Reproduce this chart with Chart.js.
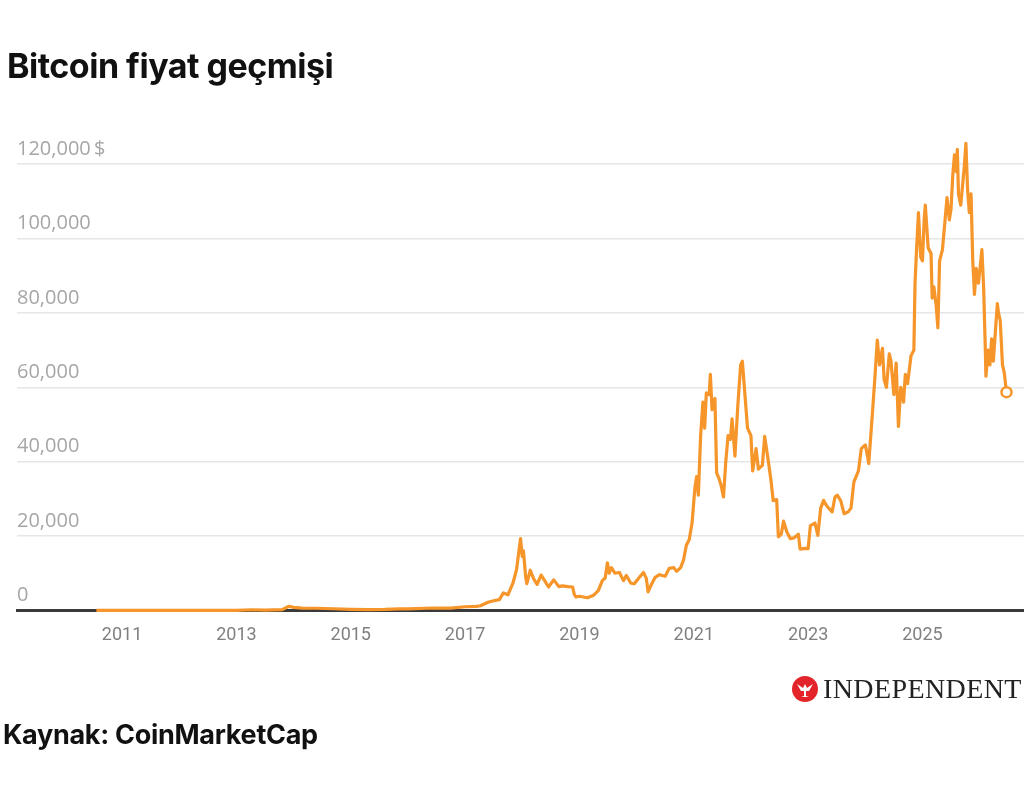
<!DOCTYPE html>
<html>
<head>
<meta charset="utf-8">
<script src="https://cdn.jsdelivr.net/npm/chart.js@4/dist/chart.umd.min.js"></script>
<style>
  html, body { margin:0; padding:0; background:#fff; }
  body { width:1024px; height:789px; position:relative; overflow:hidden; font-family: Inter, "Noto Sans", sans-serif; }
  #wrap { position:absolute; left:0; top:0; width:1032px; height:789px; }
  #title { position:absolute; left:7px; top:46px; font-family:Inter, sans-serif; font-weight:700; font-size:34px; letter-spacing:-0.5px; color:#111; line-height:40px; white-space:nowrap; }
  #source { position:absolute; left:3px; top:719px; font-family:Inter, sans-serif; font-weight:700; font-size:27px; letter-spacing:-0.3px; color:#111; line-height:32px; white-space:nowrap; }
  #logo { position:absolute; left:791px; top:675px; height:28px; display:flex; align-items:center; }
  #logo span { font-family:"Liberation Serif", "DejaVu Serif", serif; font-size:28px; color:#222; letter-spacing:0.4px; margin-left:4px; line-height:28px; }
</style>
</head>
<body>
<div id="wrap"><canvas id="c" width="1032" height="789"></canvas></div>
<div id="title">Bitcoin fiyat geçmişi</div>
<div id="logo"><svg width="28" height="28" viewBox="0 0 28 28"><circle cx="14" cy="14" r="13" fill="#e3242b"/><path d="M6 9 L12 13 L14 9 L16 13 L22 9 L18 16 L15 16 L15 21 L18 22 L10 22 L13 21 L13 16 L10 16 Z" fill="#fff"/></svg><span>INDEPENDENT</span></div>
<div id="source">Kaynak: CoinMarketCap</div>
<script>
// decimal year of each observation
const dates = [
2010.55,2011.0,2011.45,2011.9,2012.5,2013.0,2013.27,2013.5,2013.8,2013.92,
2014.0,2014.15,2014.4,2014.7,2015.0,2015.3,2015.6,2015.85,2016.0,2016.45,
2016.75,2017.0,2017.2,2017.27,2017.4,2017.5,2017.6,2017.67,2017.75,2017.84,
2017.9,2017.95,2017.97,2018.0,2018.02,2018.06,2018.08,2018.14,2018.2,2018.26,
2018.33,2018.35,2018.46,2018.55,2018.58,2018.64,2018.7,2018.8,2018.88,2018.91,
2018.94,2019.0,2019.14,2019.25,2019.33,2019.4,2019.45,2019.49,2019.52,2019.56,
2019.62,2019.7,2019.77,2019.82,2019.9,2019.96,2020.05,2020.12,2020.17,2020.2,
2020.25,2020.32,2020.4,2020.5,2020.57,2020.65,2020.7,2020.77,2020.82,2020.87,
2020.92,2020.97,2021.02,2021.05,2021.08,2021.12,2021.16,2021.19,2021.22,2021.27,
2021.29,2021.32,2021.37,2021.4,2021.44,2021.48,2021.52,2021.56,2021.6,2021.64,
2021.67,2021.72,2021.77,2021.82,2021.85,2021.9,2021.94,2022.0,2022.03,2022.09,
2022.13,2022.2,2022.24,2022.31,2022.35,2022.39,2022.45,2022.48,2022.53,2022.57,
2022.63,2022.69,2022.75,2022.83,2022.86,2022.95,2023.0,2023.04,2023.12,2023.17,
2023.22,2023.27,2023.33,2023.42,2023.47,2023.51,2023.57,2023.63,2023.7,2023.75,
2023.8,2023.88,2023.93,2024.0,2024.04,2024.06,2024.12,2024.17,2024.21,2024.25,
2024.3,2024.33,2024.37,2024.42,2024.45,2024.5,2024.54,2024.58,2024.62,2024.67,
2024.7,2024.74,2024.8,2024.85,2024.87,2024.9,2024.93,2024.97,2025.0,2025.03,
2025.05,2025.1,2025.15,2025.17,2025.2,2025.24,2025.27,2025.3,2025.35,2025.39,
2025.43,2025.47,2025.5,2025.53,2025.56,2025.59,2025.61,2025.63,2025.67,2025.7,
2025.73,2025.76,2025.79,2025.82,2025.85,2025.88,2025.91,2025.94,2025.98,2026.02,
2026.04,2026.07,2026.1,2026.11,2026.15,2026.18,2026.21,2026.24,2026.28,2026.31,
2026.33,2026.36,2026.4,2026.43,2026.47
];
// price in USD
const prices = [
0.07,0.3,17,3,7,13,180,90,200,1100,
800,600,580,450,300,230,280,420,430,650,
620,980,1100,1250,2200,2600,2900,4700,4200,7500,
11000,17000,19300,14500,16000,9000,7200,10800,8500,7000,
9500,9000,6300,8200,7600,6400,6600,6400,6300,4300,
3600,3800,3400,4100,5300,8000,8700,12800,10000,11500,
10000,10200,8000,9400,7300,7200,8900,10200,8600,5000,
6700,8800,9600,9200,11300,11500,10500,11500,13500,17500,
19000,23500,33000,36000,31000,47000,56000,49000,58500,58000,
63500,54000,57000,37000,35500,33500,30500,40000,47000,46000,
51500,41500,55000,66000,67000,57000,49000,47000,37500,43500,
38000,39000,46800,39500,35000,29500,29800,19800,20500,24000,
21000,19300,19500,20500,16500,16700,16600,22800,23500,20200,
27500,29600,28000,26500,30500,31000,29500,26000,26500,27500,
34500,37500,43500,44500,41500,39500,52000,63000,72700,66000,
70500,62000,60000,69000,67000,58000,66500,49500,60000,56000,
63500,61000,68500,70000,88000,98000,107000,95000,94000,105000,
109000,97500,96000,84000,87000,82000,76000,94000,97000,104000,
111000,105000,108000,117000,122500,118000,124000,112000,109000,114000,
119000,125600,113000,107000,112000,94000,85000,92000,88000,94000,
97000,87000,70000,63000,70000,66000,73000,67000,76000,82500,
80000,78000,66000,64000,58700
];
const xTickYears = [2011,2013,2015,2017,2019,2021,2023,2025];
const yTickValues = [0,20000,40000,60000,80000,100000,120000];
const currencySuffix = '\u2009$';

const ORANGE = '#f5952a';
const points = dates.map((d,i)=>({x:d, y:prices[i]}));
const lastIdx = points.length - 1;

new Chart(document.getElementById('c'), {
  type: 'line',
  data: { datasets: [{
    data: points,
    borderColor: ORANGE,
    borderWidth: 3.2,
    tension: 0,
    borderJoinStyle: 'round',
    pointRadius: ctx => ctx.dataIndex === lastIdx ? 5 : 0,
    pointBackgroundColor: '#fff',
    pointBorderColor: ORANGE,
    pointBorderWidth: 2.5,
    pointHoverRadius: 0,
    clip: false
  }]},
  options: {
    responsive: false,
    animation: false,
    events: [],
    layout: { padding: { left: 17, right: 0, top: 127, bottom: 129 } },
    plugins: { legend: { display: false }, tooltip: { enabled: false } },
    scales: {
      x: {
        type: 'linear',
        min: 2009.162,
        max: 2026.785,
        afterBuildTicks: s => { s.ticks = xTickYears.map(v => ({value: v})); },
        grid: { display: false, drawTicks: false },
        border: { display: true, color: '#3a3a3a', width: 3 },
        ticks: {
          padding: 14,
          color: '#808080',
          font: { family: 'Roboto', size: 18 },
          maxRotation: 0,
          callback: v => String(v)
        }
      },
      y: {
        min: 0,
        max: 130000,
        afterBuildTicks: s => { s.ticks = yTickValues.map(v => ({value: v})); },
        grid: { color: '#e6e6e6', lineWidth: 1.5, drawTicks: false },
        border: { display: false },
        ticks: {
          mirror: true,
          padding: 0,
          labelOffset: -15,
          color: '#a6a6a6',
          font: { family: 'Open Sans', size: 20 },
          callback: v => v.toLocaleString('en-US') + (v === yTickValues[yTickValues.length-1] ? currencySuffix : '')
        }
      }
    }
  }
});
</script>
</body>
</html>
